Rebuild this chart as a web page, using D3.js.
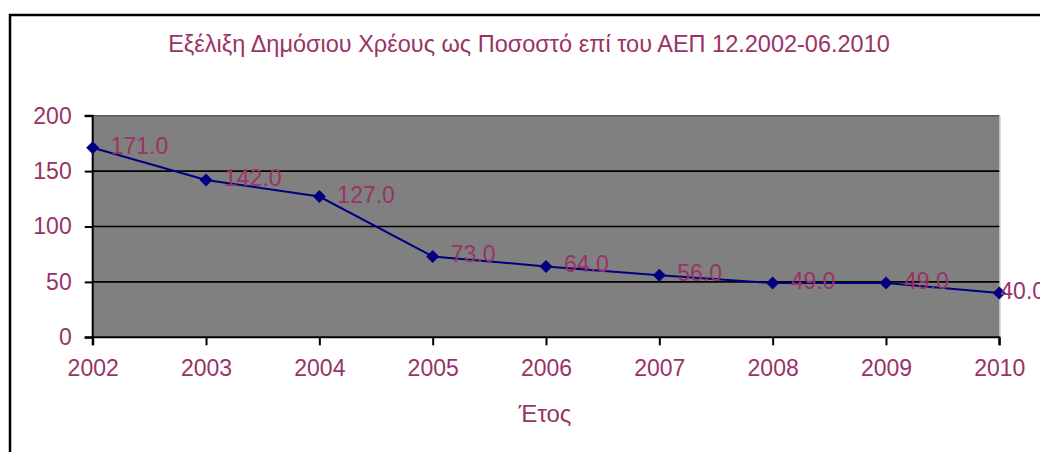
<!DOCTYPE html>
<html>
<head>
<meta charset="utf-8">
<script src="https://cdn.jsdelivr.net/npm/d3@7"></script>
<style>
  body { margin: 0; background: #fff; }
  text { font-family: "Liberation Sans", Arial, sans-serif; fill: #993366; }
</style>
</head>
<body>
<div id="chart"></div>
<script>
var years = [2002, 2003, 2004, 2005, 2006, 2007, 2008, 2009, 2010];
var debt = [171, 142, 127, 73, 64, 56, 49, 49, 40];
var yTicks = [0, 50, 100, 150, 200];
var title = "Εξέλιξη Δημόσιου Χρέους ως Ποσοστό επί του ΑΕΠ 12.2002-06.2010";
var xTitle = "Έτος";

var svgWidth = 1040;
var svgHeight = 452;

var plot = { left: 92.7, right: 999.3, top: 115.7, bottom: 337.3 };

var svg = d3.select("#chart")
  .append("svg")
  .attr("width", svgWidth)
  .attr("height", svgHeight);

// outer chart border (runs off the right and bottom edges)
svg.append("rect")
  .attr("x", 10)
  .attr("y", 15)
  .attr("width", 1100)
  .attr("height", 500)
  .attr("fill", "white")
  .attr("stroke", "black")
  .attr("stroke-width", 2.5);

var x = d3.scaleLinear()
  .domain(d3.extent(years))
  .range([plot.left, plot.right]);

var y = d3.scaleLinear()
  .domain([0, 200])
  .range([plot.bottom, plot.top]);

// plot area
svg.append("rect")
  .attr("x", plot.left)
  .attr("y", plot.top)
  .attr("width", plot.right - plot.left)
  .attr("height", plot.bottom - plot.top)
  .attr("fill", "#808080");

svg.append("line")
  .attr("x1", plot.right + 0.5).attr("x2", plot.right + 0.5)
  .attr("y1", plot.top).attr("y2", plot.bottom)
  .attr("stroke", "#c0c0c0")
  .attr("stroke-width", 1.5);

// gridlines
svg.append("g")
  .selectAll("line")
  .data(yTicks.filter(d => d > 0))
  .enter()
  .append("line")
  .attr("x1", plot.left)
  .attr("x2", plot.right)
  .attr("y1", d => y(d))
  .attr("y2", d => y(d))
  .attr("stroke", d => d === 200 ? "#5a5a5a" : "black")
  .attr("stroke-width", 1.6);

// axes
var leftAxis = d3.axisLeft(y).tickValues(yTicks).tickSize(8).tickPadding(13);
var bottomAxis = d3.axisBottom(x).tickValues(years).tickSize(8).tickPadding(14)
  .tickFormat(d3.format("d"));

var yAxisG = svg.append("g")
  .attr("transform", `translate(${plot.left}, 0)`)
  .call(leftAxis);

var xAxisG = svg.append("g")
  .attr("transform", `translate(0, ${plot.bottom})`)
  .call(bottomAxis);

[yAxisG, xAxisG].forEach(function(g) {
  g.select(".domain").attr("stroke", "black").attr("stroke-width", 2);
  g.selectAll(".tick line").attr("stroke", "black").attr("stroke-width", 2);
  g.selectAll(".tick text")
    .attr("fill", "#993366")
    .attr("font-family", "Liberation Sans, Arial, sans-serif")
    .attr("font-size", "23px");
});
yAxisG.select(".domain").attr("d", `M-8,${plot.bottom}H0V${plot.top}H-8`);
xAxisG.select(".domain").attr("d", `M${plot.left},8V0H${plot.right}V8`);

// line + markers
var line = d3.line()
  .x((d, i) => x(years[i]))
  .y(d => y(d));

svg.append("path")
  .datum(debt)
  .attr("d", line)
  .attr("fill", "none")
  .attr("stroke", "#000080")
  .attr("stroke-width", 2);

svg.append("g")
  .selectAll("path")
  .data(debt)
  .enter()
  .append("path")
  .attr("transform", (d, i) => `translate(${x(years[i])}, ${y(d)})`)
  .attr("d", "M0,-6.5L6.5,0L0,6.5L-6.5,0Z")
  .attr("fill", "#000080");

// data labels (the last one is pushed left, against its marker, as in the original)
svg.append("g")
  .selectAll("text")
  .data(debt)
  .enter()
  .append("text")
  .attr("x", (d, i) => x(years[i]) + (i === years.length - 1 ? 1 : 18))
  .attr("y", d => y(d) + 6)
  .attr("font-size", "23px")
  .attr("fill", "#a33d70")
  .text(d => d.toFixed(1));

// titles
svg.append("text")
  .attr("x", 529)
  .attr("y", 52)
  .attr("text-anchor", "middle")
  .attr("font-size", "23.5px")
  .text(title);

svg.append("text")
  .attr("x", 545)
  .attr("y", 422)
  .attr("text-anchor", "middle")
  .attr("font-size", "24px")
  .text(xTitle);
</script>
</body>
</html>
